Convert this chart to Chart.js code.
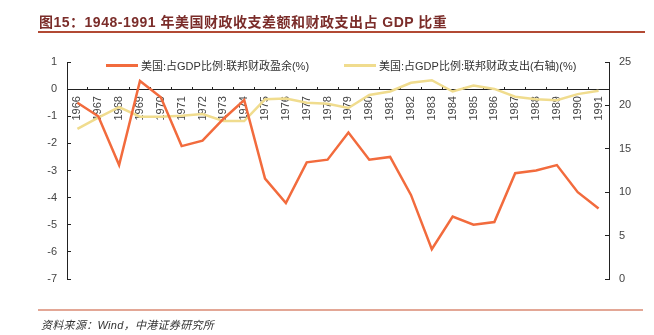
<!DOCTYPE html>
<html>
<head>
<meta charset="utf-8">
<script src="https://cdn.jsdelivr.net/npm/chart.js@4.4.1/dist/chart.umd.min.js"></script>
<style>
    body { margin: 0; background: #fff; }
    #wrap { position: relative; width: 654px; height: 335px; font-family: "Liberation Sans", "Noto Sans CJK SC", sans-serif; }
    #chartBox { position: absolute; left: 0; top: 0; width: 654px; height: 335px; }
    .title { position: absolute; left: 39px; top: 11px; font-size: 14px; font-weight: bold; letter-spacing: 0.5px; color: #7b2d2a; white-space: nowrap; }
    .title-rule { position: absolute; left: 38px; top: 31px; width: 607px; height: 2px; background: #b24a34; }
    .foot-rule { position: absolute; left: 38px; top: 309px; width: 605px; height: 2px; background: #e3a796; }
    .source { position: absolute; left: 41px; top: 316px; font-size: 11px; font-style: italic; letter-spacing: 0.3px; color: #333; white-space: nowrap; }
    .legend { position: absolute; top: 57px; font-size: 11px; color: #333; white-space: nowrap; display: flex; align-items: center; }
    .legend i { display: inline-block; width: 32px; height: 3px; margin-right: 3px; }
</style>
</head>
<body>
<div id="wrap">
    <div id="chartBox"><canvas id="deficitChart"></canvas></div>
    <div class="title">图15：1948-1991 年美国财政收支差额和财政支出占 GDP 比重</div>
    <div class="title-rule"></div>
    <div class="legend" style="left:106px"><i style="background:#f26b3d"></i>美国:占GDP比例:联邦财政盈余(%)</div>
    <div class="legend" style="left:344px"><i style="background:#f0dc8e"></i>美国:占GDP比例:联邦财政支出(右轴)(%)</div>
    <div class="foot-rule"></div>
    <div class="source">资料来源：Wind，中港证券研究所</div>
</div>
<script>
// years on the category axis
const years = ['1966', '1967', '1968', '1969', '1970', '1971', '1972', '1973', '1974', '1975', '1976', '1977', '1978',
    '1979', '1980', '1981', '1982', '1983', '1984', '1985', '1986', '1987', '1988', '1989', '1990', '1991'];

// federal surplus, % of GDP (left axis)
const surplus = [-0.5, -1.0, -2.8, 0.3, -0.3, -2.1, -1.9, -1.1, -0.4, -3.3, -4.2, -2.7, -2.6,
    -1.6, -2.6, -2.5, -3.9, -5.9, -4.7, -5.0, -4.9, -3.1, -3.0, -2.8, -3.8, -4.4];

// federal outlays, % of GDP (right axis)
const outlays = [17.3, 18.6, 19.8, 18.7, 18.7, 18.8, 19.0, 18.2, 18.2, 20.7, 20.8, 20.3, 20.2,
    19.7, 21.2, 21.6, 22.6, 22.9, 21.6, 22.3, 21.9, 21.0, 20.7, 20.6, 21.3, 21.7];

const leftTicks = { min: -7, max: 1, step: 1 };
const rightTicks = { min: 0, max: 25, step: 5 };

const tickFont = { family: '"Liberation Sans", "Noto Sans CJK SC", sans-serif', size: 11 };

const ctx = document.getElementById('deficitChart').getContext('2d');
new Chart(ctx, {
    type: 'line',
    data: {
        labels: years,
        datasets: [{
            label: '美国:占GDP比例:联邦财政盈余(%)',
            data: surplus,
            yAxisID: 'y',
            borderColor: '#f26b3d',
            borderWidth: 2.5,
            pointRadius: 0,
            tension: 0
        }, {
            label: '美国:占GDP比例:联邦财政支出(右轴)(%)',
            data: outlays,
            yAxisID: 'y1',
            borderColor: '#f0dc8e',
            borderWidth: 2.5,
            pointRadius: 0,
            tension: 0
        }]
    },
    options: {
        responsive: true,
        maintainAspectRatio: false,
        animation: false,
        layout: { padding: { top: 62, bottom: 56, left: 0, right: 0 } },
        plugins: {
            legend: { display: false },
            tooltip: { enabled: false }
        },
        scales: {
            x: {
                type: 'category',
                offset: true,
                position: { y: 0 },
                border: { display: true, color: '#222', width: 1 },
                grid: { drawOnChartArea: false, drawTicks: true, tickLength: -3, offset: true, color: '#222' },
                ticks: {
                    autoSkip: false,
                    minRotation: 90,
                    maxRotation: 90,
                    padding: 10,
                    color: '#444',
                    font: tickFont
                }
            },
            y: {
                position: 'left',
                min: leftTicks.min,
                max: leftTicks.max,
                border: { display: true, color: '#222', width: 1 },
                grid: { drawOnChartArea: false, drawTicks: true, tickLength: -4, color: '#222' },
                ticks: { stepSize: leftTicks.step, padding: 14, color: '#444', font: tickFont },
                afterFit: function(scale) { scale.width = 67; }
            },
            y1: {
                position: 'right',
                min: rightTicks.min,
                max: rightTicks.max,
                border: { display: true, color: '#222', width: 1 },
                grid: { drawOnChartArea: false, drawTicks: true, tickLength: -4, color: '#222' },
                ticks: { stepSize: rightTicks.step, padding: 14, color: '#444', font: tickFont },
                afterFit: function(scale) { scale.width = 45; }
            }
        }
    }
});
</script>
</body>
</html>
